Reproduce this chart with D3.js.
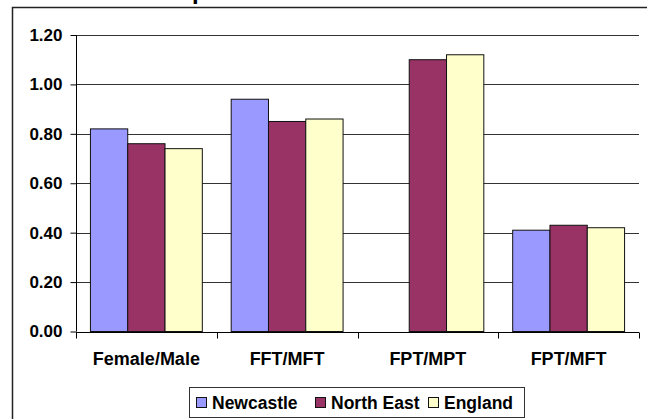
<!DOCTYPE html>
<html>
<head>
<meta charset="utf-8">
<script src="https://cdn.jsdelivr.net/npm/d3@7"></script>
<style>
  html, body { margin: 0; padding: 0; background: #fff; }
  svg { display: block; }
  text { font-family: Arial, "Liberation Sans", sans-serif; font-weight: bold; fill: #000; }
</style>
</head>
<body>
<svg id="chart" width="647" height="419"></svg>
<script>
// Pay ratio categories and the three areas compared
const categories = ["Female/Male", "FFT/MFT", "FPT/MPT", "FPT/MFT"];
const seriesNames = ["Newcastle", "North East", "England"];
const newcastle = [0.82, 0.94, null, 0.41];
const northEast = [0.76, 0.85, 1.10, 0.43];
const england = [0.74, 0.86, 1.12, 0.42];
const yTicks = [0.00, 0.20, 0.40, 0.60, 0.80, 1.00, 1.20];
const seriesColors = ["#9999FF", "#993366", "#FFFFCC"];
const titleText = "Ratio Comparisons";

const seriesValues = [newcastle, northEast, england];
const rows = categories.map((c, i) => ({
  category: c,
  values: seriesNames.map((s, j) => ({ series: s, value: seriesValues[j][i] }))
}));

const svg = d3.select("#chart");
const plot = { left: 76, right: 639, top: 35, bottom: 331.5 };

// Outer chart frame (runs past the right and bottom edges)
svg.append("path")
  .attr("d", "M12.5,430 V7.5 H660")
  .attr("fill", "none")
  .attr("stroke", "#222")
  .attr("stroke-width", 1.5);

// Title, sitting mostly above the visible area
const title = svg.append("text")
  .attr("y", -1)
  .attr("font-size", 24)
  .text(titleText);
const pIndex = titleText.indexOf("p");
const pOffset = title.node().getSubStringLength(0, pIndex);
title.attr("x", 192 - pOffset);

const x0 = d3.scaleBand()
  .domain(categories)
  .range([plot.left, plot.right])
  .paddingInner(0)
  .paddingOuter(0);

const x1 = d3.scaleBand()
  .domain(seriesNames)
  .range([0, x0.bandwidth()])
  .paddingInner(0)
  .paddingOuter(0.387);

const y = d3.scaleLinear()
  .domain([0, 1.2])
  .range([plot.bottom, plot.top]);

const color = d3.scaleOrdinal().domain(seriesNames).range(seriesColors);

// Horizontal gridlines
svg.append("g")
  .selectAll("line")
  .data(yTicks.filter(d => d > 0))
  .join("line")
  .attr("x1", plot.left)
  .attr("x2", plot.right)
  .attr("y1", d => Math.round(y(d)) + 0.5)
  .attr("y2", d => Math.round(y(d)) + 0.5)
  .attr("stroke", "#333")
  .attr("stroke-width", 1);

// Bars
const groups = svg.append("g")
  .selectAll("g")
  .data(rows)
  .join("g")
  .attr("transform", d => `translate(${x0(d.category)},0)`);

groups.selectAll("rect")
  .data(d => d.values.filter(v => v.value != null))
  .join("rect")
  .attr("x", d => x1(d.series))
  .attr("y", d => y(d.value))
  .attr("width", x1.bandwidth())
  .attr("height", d => y(0) - y(d.value))
  .attr("fill", d => color(d.series))
  .attr("stroke", "#111")
  .attr("stroke-width", 1);

// Y axis
const yAxis = svg.append("g")
  .attr("transform", `translate(${plot.left + 0.5},0)`)
  .call(d3.axisLeft(y).tickValues(yTicks).tickFormat(d3.format(".2f")).tickSize(6).tickPadding(8));
yAxis.select(".domain").attr("stroke", "#000").attr("d", `M0,${plot.top}V${plot.bottom}`);
yAxis.selectAll(".tick line").attr("stroke", "#000");
yAxis.selectAll(".tick text")
  .attr("font-size", 17)
  .attr("font-family", "Arial, 'Liberation Sans', sans-serif")
  .attr("font-weight", "bold")
  .attr("fill", "#000");

// X axis with ticks between categories
const xAxis = svg.append("g")
  .attr("transform", `translate(0,${Math.round(plot.bottom) + 0.5})`);
xAxis.append("line")
  .attr("x1", plot.left).attr("x2", plot.right)
  .attr("stroke", "#000");
xAxis.selectAll("line.tick")
  .data(categories.map(c => x0(c)).concat([plot.right]))
  .join("line")
  .attr("class", "tick")
  .attr("x1", d => Math.round(d) + 0.5)
  .attr("x2", d => Math.round(d) + 0.5)
  .attr("y1", 0).attr("y2", 6)
  .attr("stroke", "#000");
xAxis.selectAll("text")
  .data(categories)
  .join("text")
  .attr("x", d => x0(d) + x0.bandwidth() / 2)
  .attr("y", 32)
  .attr("text-anchor", "middle")
  .attr("font-size", 18)
  .text(d => d);

// Legend
const legend = svg.append("g");
legend.append("rect")
  .attr("x", 189.5).attr("y", 387.5)
  .attr("width", 335).attr("height", 30)
  .attr("fill", "#fff")
  .attr("stroke", "#333");
const legendX = [196, 315, 428];
const items = legend.selectAll("g.item")
  .data(seriesNames)
  .join("g")
  .attr("class", "item")
  .attr("transform", (d, i) => `translate(${legendX[i]},0)`);
items.append("rect")
  .attr("x", 0.5).attr("y", 397.5)
  .attr("width", 10).attr("height", 10)
  .attr("fill", d => color(d))
  .attr("stroke", "#111");
items.append("text")
  .attr("x", 16)
  .attr("y", 409)
  .attr("font-size", 17.5)
  .text(d => d);
</script>
</body>
</html>
